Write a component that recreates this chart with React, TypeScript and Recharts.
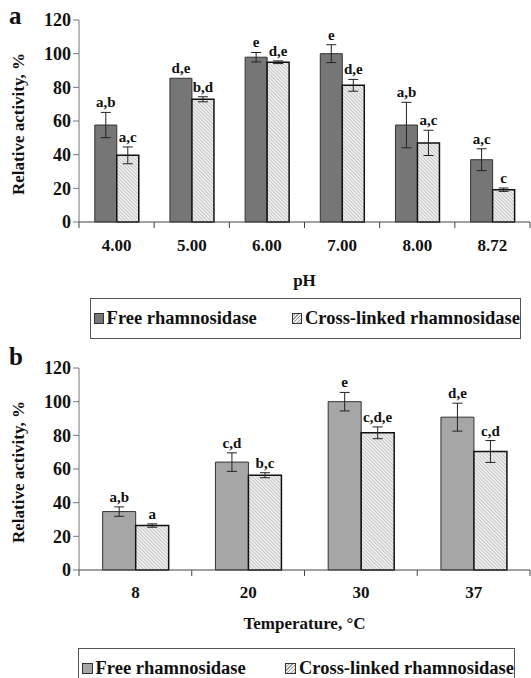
import { BarChart, Bar, XAxis, YAxis, ErrorBar, LabelList, Legend } from "recharts";

const FONT = '"Liberation Serif", "Times New Roman", serif';

// panel a: pH
const phCats = ["4.00", "5.00", "6.00", "7.00", "8.00", "8.72"];
const phFree = [57.6, 85.4, 97.9, 100, 57.6, 37];
const phFreeErr = [7.5, 0, 2.8, 5.3, 13.5, 6.5];
const phCross = [39.6, 72.9, 94.9, 81.2, 47, 19.2];
const phCrossErr = [5, 1.5, 0.8, 3.5, 7.5, 1];
const phFreeLetters = ["a,b", "d,e", "e", "e", "a,b", "a,c"];
const phCrossLetters = ["a,c", "b,d", "d,e", "d,e", "a,c", "c"];

// panel b: temperature
const tempCats = ["8", "20", "30", "37"];
const tempFree = [34.7, 64.1, 100, 90.8];
const tempFreeErr = [2.8, 5.5, 5.5, 8.3];
const tempCross = [26.4, 56.3, 81.5, 70.4];
const tempCrossErr = [1, 1.5, 3.5, 6.5];
const tempFreeLetters = ["a,b", "c,d", "e", "d,e"];
const tempCrossLetters = ["a", "b,c", "c,d,e", "c,d"];

const yTicks = [0, 20, 40, 60, 80, 100, 120];

const W = 531;
const PLOT_LEFT = 79;
const RIGHT = 1;

const letterLabel = (vals: number[], errs: number[], letters: string[]) => (p: any) => {
  const vb = p.viewBox || p;
  const x = vb.x ?? p.x;
  const y = vb.y ?? p.y;
  const w = vb.width ?? p.width;
  const h = vb.height ?? p.height;
  const i = p.index;
  const perUnit = vals[i] ? h / vals[i] : 0;
  const top = y - errs[i] * perUnit;
  return (
    <text
      x={x + w / 2}
      y={top - 5}
      textAnchor="middle"
      fontFamily={FONT}
      fontWeight="bold"
      fontSize={15}
      fill="#111"
    >
      {letters[i]}
    </text>
  );
};

const Swatch = ({ hatch, color }: { hatch?: boolean; color?: string }) => (
  <span
    style={{
      display: "inline-block",
      width: 9,
      height: 9,
      border: "1px solid #333",
      background: hatch
        ? "repeating-linear-gradient(-45deg, #999 0 1px, #eee 1px 2.5px)"
        : color,
      marginRight: 3,
    }}
  />
);

interface PanelProps {
  letter: string;
  letterTop: number;
  top: number;
  height: number;
  marginTop: number;
  xAxisHeight: number;
  cats: string[];
  free: number[];
  freeErr: number[];
  cross: number[];
  crossErr: number[];
  freeLetters: string[];
  crossLetters: string[];
  freeColor: string;
  xTitle: string;
  tickDy: number;
  titleDy: number;
  legendLeft: number;
  legendWidth: number;
  pid: string;
}

const Panel = (p: PanelProps) => {
  const legendH = 45;
  const plotBottom = p.height - legendH - p.xAxisHeight;
  const band = (W - PLOT_LEFT - RIGHT) / p.cats.length;
  const rows = p.cats.map((c, i) => ({
    cat: c,
    free: p.free[i],
    freeErr: p.freeErr[i],
    cross: p.cross[i],
    crossErr: p.crossErr[i],
  }));

  const XTick = (t: any) => {
    const x = t.x;
    const idx = t.index;
    return (
      <g>
        <line x1={x - band / 2} y1={plotBottom} x2={x - band / 2} y2={plotBottom + 6} stroke="#444" />
        {idx === p.cats.length - 1 && (
          <line x1={x + band / 2} y1={plotBottom} x2={x + band / 2} y2={plotBottom + 6} stroke="#444" />
        )}
        <text
          x={x}
          y={plotBottom + p.tickDy}
          textAnchor="middle"
          dominantBaseline="central"
          fontFamily={FONT}
          fontWeight="bold"
          fontSize={17}
          fill="#111"
        >
          {t.payload.value}
        </text>
      </g>
    );
  };

  const YTitle = (l: any) => {
    const vb = l.viewBox;
    const cy = vb.y + vb.height / 2 + 3;
    return (
      <text
        x={18}
        y={cy}
        transform={`rotate(-90, 18, ${cy})`}
        textAnchor="middle"
        dominantBaseline="central"
        fontFamily={FONT}
        fontWeight="bold"
        fontSize={17}
        fill="#111"
      >
        Relative activity, %
      </text>
    );
  };

  const XTitle = (l: any) => {
    const vb = l.viewBox;
    return (
      <text
        x={vb.x + vb.width / 2}
        y={plotBottom + p.titleDy}
        textAnchor="middle"
        dominantBaseline="central"
        fontFamily={FONT}
        fontWeight="bold"
        fontSize={17}
        fill="#111"
      >
        {p.xTitle}
      </text>
    );
  };

  const LegendBox = () => (
    <div
      style={{
        marginLeft: p.legendLeft,
        width: p.legendWidth,
        height: 41,
        boxSizing: "border-box",
        border: "1px solid #555",
        display: "flex",
        alignItems: "center",
        paddingLeft: 3,
        fontFamily: FONT,
        fontWeight: "bold",
        fontSize: 18.5,
        color: "#111",
        background: "#fff",
        whiteSpace: "nowrap",
      }}
    >
      <Swatch color={p.freeColor} />
      <span>Free rhamnosidase</span>
      <span style={{ width: 42 }} />
      <Swatch hatch />
      <span>Cross-linked rhamnosidase</span>
    </div>
  );

  return (
    <div style={{ position: "absolute", left: 0, top: p.top }}>
      <div
        style={{
          position: "absolute",
          left: 9,
          top: p.letterTop,
          fontFamily: FONT,
          fontWeight: "bold",
          fontSize: 25,
          lineHeight: "25px",
          color: "#111",
        }}
      >
        {p.letter}
      </div>
      <BarChart
        width={W}
        height={p.height}
        data={rows}
        margin={{ top: p.marginTop, right: RIGHT, left: 0, bottom: 0 }}
        barCategoryGap="21%"
        barGap={0}
      >
        <defs>
          <pattern id={p.pid} patternUnits="userSpaceOnUse" width={2.5} height={2.5} patternTransform="rotate(-45)">
            <rect width={2.5} height={2.5} fill="#efefef" />
            <line x1={0} y1={0} x2={0} y2={2.5} stroke="#a0a0a0" strokeWidth={1} />
          </pattern>
        </defs>
        <XAxis
          dataKey="cat"
          height={p.xAxisHeight}
          tickLine={false}
          axisLine={{ stroke: "#444" }}
          tick={<XTick />}
          interval={0}
          label={<XTitle />}
        />
        <YAxis
          width={PLOT_LEFT}
          domain={[0, 120]}
          ticks={yTicks}
          interval={0}
          tickSize={6}
          tickMargin={2}
          axisLine={{ stroke: "#777" }}
          tickLine={{ stroke: "#777" }}
          tick={{ fontFamily: FONT, fontWeight: "bold", fontSize: 18, fill: "#111" }}
          label={<YTitle />}
        />
        <Legend
          verticalAlign="bottom"
          height={legendH}
          wrapperStyle={{ left: 0, width: W }}
          content={<LegendBox />}
        />
        <Bar dataKey="free" fill={p.freeColor} stroke="#333" strokeWidth={1} isAnimationActive={false}>
          <ErrorBar dataKey="freeErr" width={5} stroke="#222" strokeWidth={1} />
          <LabelList dataKey="free" content={letterLabel(p.free, p.freeErr, p.freeLetters)} />
        </Bar>
        <Bar dataKey="cross" fill={`url(#${p.pid})`} stroke="#111" strokeWidth={1.5} isAnimationActive={false}>
          <ErrorBar dataKey="crossErr" width={5} stroke="#222" strokeWidth={1} />
          <LabelList dataKey="cross" content={letterLabel(p.cross, p.crossErr, p.crossLetters)} />
        </Bar>
      </BarChart>
    </div>
  );
};

export default function App() {
  return (
    <div
      style={{
        position: "absolute",
        left: 0,
        top: 0,
        width: W,
        height: 678,
        overflow: "hidden",
        background: "#fff",
      }}
    >
      <Panel
        letter="a"
        letterTop={3}
        pid="hatchA"
        top={0}
        height={343}
        marginTop={20}
        xAxisHeight={76}
        cats={phCats}
        free={phFree}
        freeErr={phFreeErr}
        cross={phCross}
        crossErr={phCrossErr}
        freeLetters={phFreeLetters}
        crossLetters={phCrossLetters}
        freeColor="#767676"
        xTitle="pH"
        tickDy={23}
        titleDy={58}
        legendLeft={90}
        legendWidth={431}
      />
      <Panel
        letter="b"
        letterTop={-1}
        pid="hatchB"
        top={345}
        height={348}
        marginTop={23}
        xAxisHeight={78}
        cats={tempCats}
        free={tempFree}
        freeErr={tempFreeErr}
        cross={tempCross}
        crossErr={tempCrossErr}
        freeLetters={tempFreeLetters}
        crossLetters={tempCrossLetters}
        freeColor="#a6a6a6"
        xTitle="Temperature, °C"
        tickDy={22}
        titleDy={53}
        legendLeft={78}
        legendWidth={437}
      />
    </div>
  );
}
